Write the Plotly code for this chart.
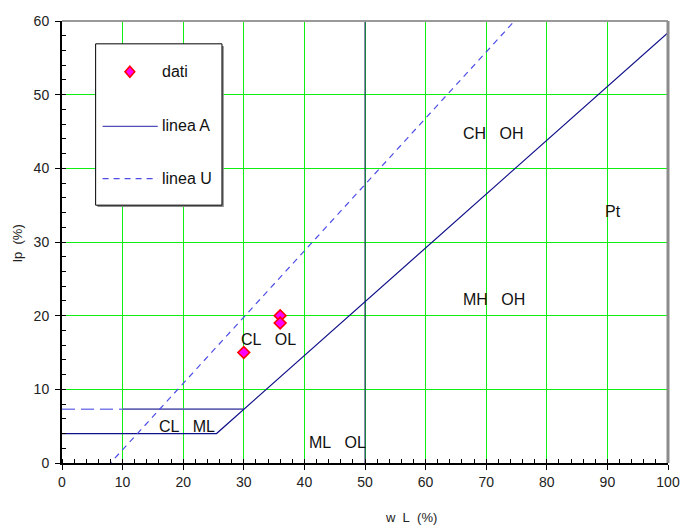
import plotly.graph_objects as go

# Soil samples: liquid limit wL (%) and plasticity index Ip (%)
dati_wl = [30, 36, 36]
dati_ip = [15, 20, 19]

# Casagrande A-line (with the 4% floor) and U-line
linea_a_wl = [0, 25.5, 100]
linea_a_ip = [4, 4, 58.4]
linea_u_wl = [7.5, 75.5]
linea_u_ip = [-0.45, 60.75]

# Horizontal limit at Ip = 7.3
lim7_dash_wl = [0, 10]
lim7_dash_ip = [7.3, 7.3]
lim7_wl = [10, 30]
lim7_ip = [7.3, 7.3]

# Zone labels
zone_text = ["CL\u00a0\u00a0\u00a0ML", "ML\u00a0\u00a0\u00a0OL", "CL\u00a0\u00a0\u00a0OL",
             "CH\u00a0\u00a0\u00a0OH", "MH\u00a0\u00a0\u00a0OH", "Pt"]
zone_wl = [20.6, 45.5, 34.1, 71.1, 71.3, 90.9]
zone_ip = [4.9, 2.8, 16.7, 44.7, 22.2, 34.2]

x_ticks = list(range(0, 101, 10))
y_ticks = list(range(0, 61, 10))

FONT = "Liberation Sans, Arial, sans-serif"
NAVY = "#10108a"
UBLUE = "#4d4de6"

fig = go.Figure()

fig.add_trace(go.Scatter(x=lim7_dash_wl, y=lim7_dash_ip, mode="lines",
                         line=dict(color="#7c7cec", width=1.6, dash="13px,6px"),
                         showlegend=False, hoverinfo="skip"))
fig.add_trace(go.Scatter(x=lim7_wl, y=lim7_ip, mode="lines",
                         line=dict(color="#6666b4", width=1.8),
                         showlegend=False, hoverinfo="skip"))
fig.add_trace(go.Scatter(x=linea_a_wl, y=linea_a_ip, mode="lines", name="linea A",
                         line=dict(color=NAVY, width=1.2), showlegend=False))
fig.add_trace(go.Scatter(x=linea_u_wl, y=linea_u_ip, mode="lines", name="linea U",
                         line=dict(color=UBLUE, width=1.2, dash="6px,5px"), showlegend=False))
fig.add_trace(go.Scatter(x=dati_wl, y=dati_ip, mode="markers", name="dati",
                         marker=dict(symbol="diamond", size=9, color="#ff00ff",
                                     line=dict(color="#ff0000", width=1.6)),
                         showlegend=False))

for t, xv, yv in zip(zone_text, zone_wl, zone_ip):
    fig.add_annotation(x=xv, y=yv, xref="x", yref="y", text=t, showarrow=False,
                       xanchor="center", yanchor="middle",
                       font=dict(family=FONT, size=16, color="#111111"))

shapes = [
    # wL = 50 boundary
    dict(type="line", xref="x", yref="y", x0=50, x1=50, y0=0, y1=60,
         line=dict(color="#1a1a66", width=1), layer="between"),
    # legend frame with shadow
    dict(type="rect", xref="x", yref="y", x0=5.85, x1=26.7, y0=34.75, y1=56.6,
         line=dict(width=0), fillcolor="#8a8a8a", layer="between"),
    dict(type="rect", xref="x", yref="y", x0=5.55, x1=26.4, y0=35.0, y1=56.9,
         line=dict(color="black", width=1), fillcolor="white", layer="between"),
    # legend samples
    dict(type="path", xref="x", yref="y",
         path="M 11.2 53.85 L 12.0 53.1 L 11.2 52.35 L 10.4 53.1 Z",
         fillcolor="#ff00ff", line=dict(color="#ff0000", width=1.6), layer="above"),
    dict(type="line", xref="x", yref="y", x0=6.7, x1=15.8, y0=45.7, y1=45.7,
         line=dict(color="#5050b8", width=1.3), layer="above"),
    dict(type="line", xref="x", yref="y", x0=6.7, x1=15.8, y0=38.6, y1=38.6,
         line=dict(color=UBLUE, width=1.3, dash="6px,5px"), layer="above"),
    # frame: grey top and right edges
    dict(type="line", xref="paper", yref="paper", x0=0, x1=1, y0=1, y1=1,
         line=dict(color="#999999", width=2), layer="above"),
    dict(type="line", xref="paper", yref="paper", x0=1, x1=1, y0=0, y1=1,
         line=dict(color="#8c8c8c", width=3), layer="above"),
]

legend_labels = [("dati", 53.1), ("linea A", 45.8), ("linea U", 38.6)]
for txt, yv in legend_labels:
    fig.add_annotation(x=16.2, y=yv, xref="x", yref="y", text=txt, showarrow=False,
                       xanchor="left", yanchor="middle",
                       font=dict(family=FONT, size=16, color="#111111"))

# axis titles
fig.add_annotation(x=-0.073, y=0.496, xref="paper", yref="paper", text="Ip\u00a0\u00a0(%)",
                   textangle=-90, showarrow=False, xanchor="center", yanchor="middle",
                   font=dict(family=FONT, size=13, color="#222222"))
fig.add_annotation(x=0.576, y=-0.124, xref="paper", yref="paper", text="w\u00a0\u00a0L\u00a0\u00a0(%)",
                   showarrow=False, xanchor="center", yanchor="middle",
                   font=dict(family=FONT, size=13, color="#222222"))

axis_common = dict(
    showline=True, linecolor="black", linewidth=2,
    showgrid=True, gridcolor="#11ee11", gridwidth=1.2,
    zeroline=False, automargin=False,
    ticks="outside", ticklen=5, tickwidth=1, tickcolor="black",
    tickfont=dict(family=FONT, size=14, color="#222222"),
)

fig.update_xaxes(range=[0, 100], tickvals=x_ticks, ticktext=[str(v) for v in x_ticks],
                 minor=dict(dtick=2, ticks="inside", ticklen=4, tickcolor="black", showgrid=False),
                 **axis_common)
fig.update_yaxes(range=[0, 60], tickvals=y_ticks, ticktext=[str(v) for v in y_ticks],
                 minor=dict(dtick=2, ticks="inside", ticklen=4, tickcolor="black", showgrid=False),
                 ticklabelstandoff=3, **axis_common)

fig.update_layout(
    width=680, height=526,
    margin=dict(l=62, r=12, t=21, b=63, autoexpand=False),
    paper_bgcolor="white", plot_bgcolor="white",
    shapes=shapes, showlegend=False,
    font=dict(family=FONT),
)

fig.write_html("out.html")
